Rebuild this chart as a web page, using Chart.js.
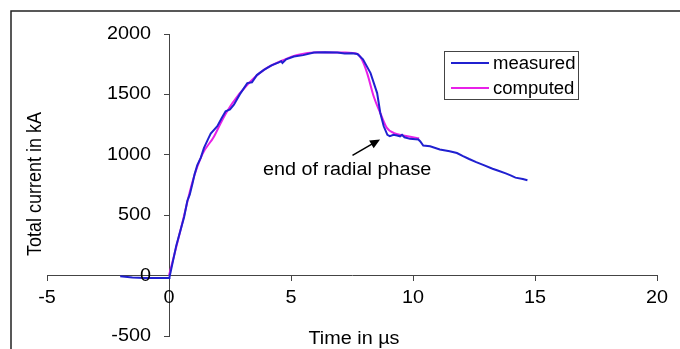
<!DOCTYPE html>
<html>
<head>
<meta charset="utf-8">
<script src="https://cdn.jsdelivr.net/npm/chart.js@4/dist/chart.umd.min.js"></script>
<style>
  html, body { margin: 0; padding: 0; background: #fff; }
  #wrap { position: relative; width: 680px; height: 349px; }
</style>
</head>
<body>
<div id="wrap"><canvas id="chart"></canvas></div>
<script>
// measured current (blue)
const measuredT = [-2.0, -1.5, -1.0, -0.5, 0, 0.02, 0.3, 0.62, 0.75, 0.85, 0.96, 1.05, 1.16, 1.3, 1.43, 1.6, 1.71, 1.98, 2.15, 2.32, 2.5, 2.66, 2.9, 3.1, 3.21, 3.4, 3.6, 3.89, 4.2, 4.5, 4.6, 4.65, 4.8, 5.12, 5.5, 5.94, 6.4, 6.9, 7.2, 7.5, 7.72, 7.95, 8.26, 8.53, 8.66, 8.8, 8.95, 9.05, 9.2, 9.35, 9.47, 9.55, 9.65, 9.88, 10.22, 10.3, 10.42, 10.7, 11.1, 11.5, 11.8, 12.05, 12.3, 12.59, 12.9, 13.26, 13.5, 13.8, 14.0, 14.2, 14.5, 14.69];
const measuredI = [-5, -15, -20, -20, -20, -15, 250, 485, 618, 670, 760, 840, 915, 975, 1055, 1130, 1175, 1236, 1300, 1360, 1375, 1415, 1500, 1560, 1594, 1600, 1660, 1703, 1740, 1765, 1775, 1760, 1790, 1813, 1825, 1846, 1848, 1846, 1838, 1840, 1835, 1790, 1676, 1511, 1346, 1236, 1165, 1155, 1165, 1160, 1153, 1165, 1145, 1132, 1126, 1110, 1077, 1070, 1044, 1030, 1015, 989, 965, 939, 915, 885, 868, 846, 830, 811, 800, 789];
// computed current (magenta)
const computedT = [0, 0.55, 0.96, 1.37, 1.84, 2.19, 2.6, 3.21, 3.89, 4.71, 5.26, 6.08, 7.18, 7.72, 7.9, 8.12, 8.39, 8.66, 8.93, 9.2, 9.6, 10.15, 10.25];
const computedI = [0, 440, 775, 1005, 1150, 1291, 1429, 1580, 1703, 1786, 1827, 1849, 1846, 1835, 1790, 1676, 1483, 1346, 1223, 1182, 1160, 1140, 1135];

const xTicks = [-5, 0, 5, 10, 15, 20];
const yTicks = [-500, 0, 500, 1000, 1500, 2000];
const seriesNames = ['measured', 'computed'];
const seriesColors = ['#2020d0', '#e820e8'];
const xTitle = 'Time in µs';
const yTitle = 'Total current in kA';
const noteText = 'end of radial phase';
// annotation in data units: text centre, arrow tail, arrow tip
const note = { tx: 7.3, ty: 870, ax: 7.52, ay: 995, bx: 8.65, by: 1127 };

const FONT_FAMILY = '"Liberation Sans", Arial, sans-serif';
const FONT = '18px ' + FONT_FAMILY;
const STRETCH = 1.1;   // 原圖文字略為橫向拉寬

const toPoints = (ts, vs) => ts.map((t, i) => ({ x: t, y: vs[i] }));

function wideText(ctx, text, px, py, align, sx = STRETCH, sy = 1) {
    ctx.save();
    ctx.translate(px, py);
    ctx.scale(sx, sy);
    ctx.textAlign = align;
    ctx.fillText(text, 0, 0);
    ctx.restore();
}

// 刻度文字、軸標題、圖例、註解
const overlay = {
    id: 'overlay',
    beforeDraw(chart) {
        const ctx = chart.ctx;
        ctx.save();
        ctx.strokeStyle = '#222';
        ctx.lineWidth = 1.5;
        ctx.beginPath();
        ctx.moveTo(11, chart.height);
        ctx.lineTo(11, 11);
        ctx.lineTo(chart.width, 11);
        ctx.stroke();
        ctx.restore();
    },
    afterDraw(chart) {
        const { ctx, scales: { x, y } } = chart;
        const x0 = x.getPixelForValue(0);
        const y0 = y.getPixelForValue(0);
        ctx.save();
        ctx.fillStyle = '#000';
        ctx.font = FONT;
        ctx.textBaseline = 'middle';

        // tick labels
        xTicks.forEach(v => wideText(ctx, String(v), x.getPixelForValue(v), y0 + 22, 'center'));
        yTicks.forEach(v => wideText(ctx, String(v), x0 - 18, y.getPixelForValue(v), 'right'));

        // axis titles
        wideText(ctx, xTitle, 354, 339, 'center');
        ctx.save();
        ctx.translate(36, 184);
        ctx.rotate(-Math.PI / 2);
        wideText(ctx, yTitle, 0, 0, 'center', 1, STRETCH);
        ctx.restore();

        // legend
        ctx.strokeStyle = '#444';
        ctx.lineWidth = 1;
        ctx.strokeRect(444.5, 51.5, 134, 48);
        chart.data.datasets.forEach((ds, i) => {
            const ly = 63 + i * 25;
            ctx.strokeStyle = ds.borderColor;
            ctx.lineWidth = 2;
            ctx.beginPath();
            ctx.moveTo(451, ly);
            ctx.lineTo(489, ly);
            ctx.stroke();
            wideText(ctx, ds.label, 493, ly + 1, 'left', 1.03);
        });

        // annotation
        wideText(ctx, noteText, x.getPixelForValue(note.tx), y.getPixelForValue(note.ty), 'center');
        const x1 = x.getPixelForValue(note.ax), y1 = y.getPixelForValue(note.ay);
        const x2 = x.getPixelForValue(note.bx), y2 = y.getPixelForValue(note.by);
        const ang = Math.atan2(y2 - y1, x2 - x1);
        ctx.strokeStyle = '#000';
        ctx.lineWidth = 1.5;
        ctx.beginPath();
        ctx.moveTo(x1, y1);
        ctx.lineTo(x2 - 6 * Math.cos(ang), y2 - 6 * Math.sin(ang));
        ctx.stroke();
        ctx.beginPath();
        ctx.moveTo(x2, y2);
        ctx.lineTo(x2 - 10 * Math.cos(ang) + 4.5 * Math.sin(ang), y2 - 10 * Math.sin(ang) - 4.5 * Math.cos(ang));
        ctx.lineTo(x2 - 10 * Math.cos(ang) - 4.5 * Math.sin(ang), y2 - 10 * Math.sin(ang) + 4.5 * Math.cos(ang));
        ctx.closePath();
        ctx.fillStyle = '#000';
        ctx.fill();
        ctx.restore();
    }
};

const axisCommon = {
    type: 'linear',
    border: { display: true, color: '#444', width: 1 },
    grid: { display: true, drawOnChartArea: false, drawTicks: true, tickLength: 5, color: '#444' },
    ticks: { display: false }
};

new Chart(document.getElementById('chart'), {
    type: 'line',
    data: {
        datasets: [
            {
                label: seriesNames[0],
                data: toPoints(measuredT, measuredI),
                borderColor: seriesColors[0],
                borderWidth: 2,
                pointRadius: 0,
                tension: 0
            },
            {
                label: seriesNames[1],
                data: toPoints(computedT, computedI),
                borderColor: seriesColors[1],
                borderWidth: 2,
                pointRadius: 0,
                cubicInterpolationMode: 'monotone'
            }
        ]
    },
    options: {
        responsive: true,
        maintainAspectRatio: false,
        animation: false,
        layout: { padding: { left: 47, right: 23, top: 34, bottom: 13 } },
        plugins: { legend: { display: false }, tooltip: { enabled: false } },
        scales: {
            x: {
                ...axisCommon,
                min: -5, max: 20,
                position: { y: 0 },
                afterBuildTicks: s => { s.ticks = xTicks.map(v => ({ value: v })); }
            },
            y: {
                ...axisCommon,
                min: -500, max: 2000,
                position: { x: 0 },
                afterBuildTicks: s => { s.ticks = yTicks.map(v => ({ value: v })); }
            }
        }
    },
    plugins: [overlay]
});
</script>
</body>
</html>
